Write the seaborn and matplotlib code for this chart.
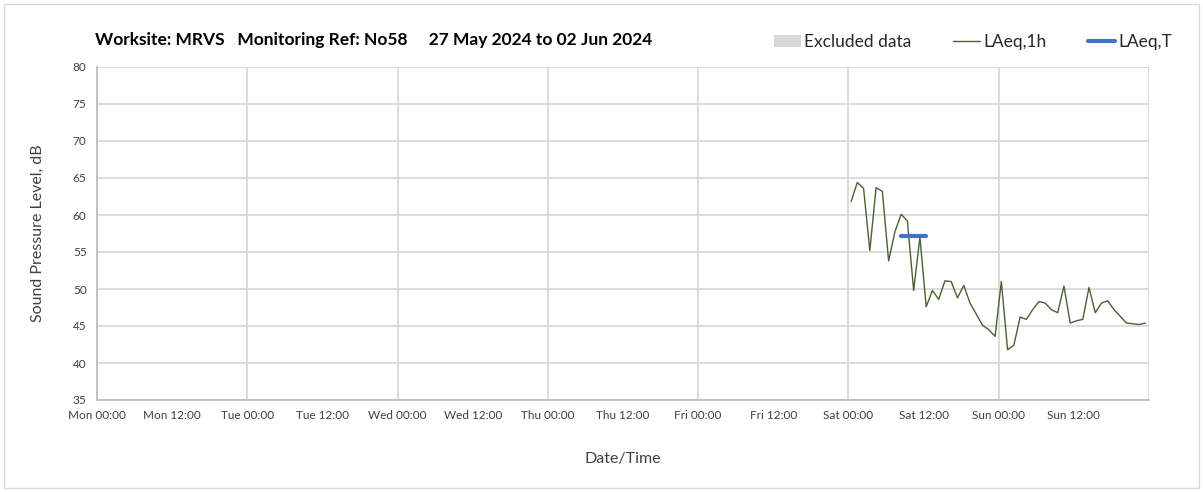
import pandas as pd
import numpy as np
import matplotlib
matplotlib.use("Agg")
import matplotlib.pyplot as plt
import matplotlib.dates as mdates
from matplotlib.patches import Patch, Rectangle
from matplotlib.lines import Line2D
import seaborn as sns

# hourly LAeq,1h values, Sat 00:00 -> Sun 23:00
laeq_1h = [61.8, 64.4, 63.6, 55.2, 63.7, 63.2, 53.8, 57.7, 60.1, 59.2, 49.8, 57.0,
           47.6, 49.8, 48.6, 51.1, 51.0, 48.8, 50.5, 48.1, 46.6, 45.1, 44.5, 43.6,
           51.0, 41.8, 42.4, 46.2, 45.9, 47.2, 48.3, 48.1, 47.2, 46.8, 50.4, 45.4,
           45.7, 45.9, 50.2, 46.8, 48.1, 48.4, 47.2, 46.3, 45.4, 45.3, 45.2, 45.4]
laeq_1h_start = "2024-06-01 00:25"
laeq_t = 57.1
laeq_t_times = ["2024-06-01 08:25", "2024-06-01 12:25"]

week_start = "2024-05-27 00:00"
week_end = "2024-06-03 00:00"
y_ticks = [35, 40, 45, 50, 55, 60, 65, 70, 75, 80]
title = "Worksite: MRVS   Monitoring Ref: No58     27 May 2024 to 02 Jun 2024"

df = pd.DataFrame({
    "time": pd.date_range(laeq_1h_start, periods=len(laeq_1h), freq="h"),
    "LAeq,1h": laeq_1h,
})
dt = pd.DataFrame({"time": pd.to_datetime(laeq_t_times), "LAeq,T": [laeq_t, laeq_t]})

sns.set_style("white")
plt.rcParams['font.family'] = ['Lato', 'DejaVu Sans']

fig = plt.figure(figsize=(12.03, 4.92), dpi=100)
ax = fig.add_axes([97/1203, 1-400/492, (1149-97)/1203, (400-67)/492])

grid_c = "#d9d9d9"
line_c = "#4a6131"
sns.lineplot(data=df, x="time", y="LAeq,1h", ax=ax, color=line_c, linewidth=1.0)
sns.lineplot(data=dt, x="time", y="LAeq,T", ax=ax, color="#4472c4", linewidth=3.0)

ax.set_xlim(pd.Timestamp(week_start), pd.Timestamp(week_end))
ax.set_ylim(35, 80)
ax.set_yticks(y_ticks)
ax.xaxis.set_major_locator(mdates.HourLocator(byhour=[0, 12]))
ax.xaxis.set_major_formatter(mdates.DateFormatter("%a %H:%M"))
ax.set_xticks(ax.get_xticks()[:-1])

ax.grid(axis="y", color=grid_c, linewidth=1.3)
for d in pd.date_range(week_start, week_end, freq="D"):
    ax.axvline(d, color=grid_c, linewidth=1.3, zorder=0)

for s in ["top", "right"]:
    ax.spines[s].set_visible(False)
for s in ["left", "bottom"]:
    ax.spines[s].set_color("#bfbfbf")
    ax.spines[s].set_linewidth(1.3)
ax.tick_params(axis="both", colors="#bfbfbf", labelcolor="#404040", labelsize=8.5,
               length=4, width=1)
ax.set_xlabel("Date/Time", fontsize=11.5, color="#404040", labelpad=22)
ax.set_ylabel("Sound Pressure Level, dB", fontsize=11.5, color="#404040", labelpad=20)

fig.text(95/1203, 1-40/492, title, fontsize=12.5, fontweight="bold", va="center", color="#000000")

handles = [Patch(facecolor="#d9d9d9", edgecolor="none"),
           Line2D([], [], color=line_c, linewidth=1.0),
           Line2D([], [], color="#4472c4", linewidth=3.0)]
fig.legend(handles, ["Excluded data", "LAeq,1h", "LAeq,T"], ncol=3, frameon=False,
           loc="center right", bbox_to_anchor=(1188/1203, 1-42/492), fontsize=12.5,
           handlelength=1.55, handletextpad=0.2, columnspacing=2.4, labelcolor="#262626")

fig.add_artist(Rectangle((4/1203, 4/492), 1195/1203, 484/492, transform=fig.transFigure,
                         fill=False, edgecolor="#d9d9d9", linewidth=1))

fig.savefig("out.png", dpi=100)
